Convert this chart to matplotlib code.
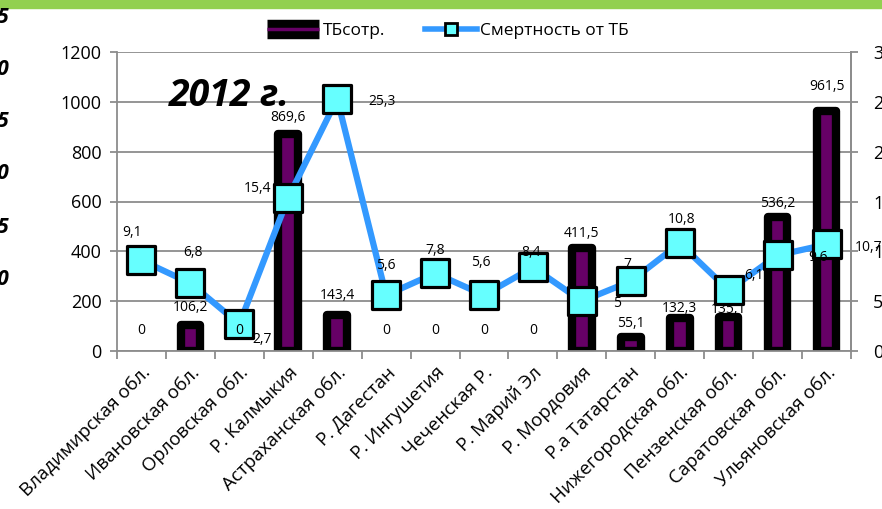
import matplotlib
matplotlib.use("Agg")
import matplotlib.pyplot as plt
import numpy as np
from matplotlib.lines import Line2D
from matplotlib.markers import MarkerStyle
from matplotlib.patches import Rectangle
from matplotlib.legend_handler import HandlerTuple

plt.rcParams['font.family'] = ['Open Sans', 'DejaVu Sans']

# data
regions = ['Владимирская обл.', 'Ивановская обл.', 'Орловская обл.', 'Р. Калмыкия',
           'Астраханская обл.', 'Р. Дагестан', 'Р. Ингушетия', 'Чеченская Р.',
           'Р. Марий Эл', 'Р. Мордовия', 'Р.а Татарстан', 'Нижегородская обл.',
           'Пензенская обл.', 'Саратовская обл.', 'Ульяновская обл.']
tb_staff = [0, 106.2, 0, 869.6, 143.4, 0, 0, 0, 0, 411.5, 55.1, 132.3, 135.1, 536.2, 961.5]
mortality = [9.1, 6.8, 2.7, 15.4, 25.3, 5.6, 7.8, 5.6, 8.4, 5, 7, 10.8, 6.1, 9.6, 10.7]
left_ticks = [0, 200, 400, 600, 800, 1000, 1200]
right_ticks = [0, 5, 10, 15, 20, 25, 30]

def fmt(v):
    s = ('%.1f' % v).rstrip('0').rstrip('.')
    return s.replace('.', ',')

# label placement (pixels, relative to the data point)
bar_lab_dy = [21, 17, 21, 17, 20, 21, 21, 21, 21, 15, 14, 10, 8, 14, 25]
line_lab_off = [(-9, 28), (3, 31), (23, -15), (-31, 9), (45, -3), (0, 30), (0, 23),
                (-3, 33), (-2, 15), (35, -2), (-3, 17), (2, 24), (25, 15), (40, -2), (42, -3)]

W, H = 882, 509
fig = plt.figure(figsize=(W / 100, H / 100), dpi=100, facecolor='white')
ax = fig.add_axes([117 / W, 1 - 351 / H, (851 - 117) / W, (351 - 52) / H])
ax2 = ax.twinx()

fig.patches.append(Rectangle((0, 1 - 8 / H), 1, 8 / H, transform=fig.transFigure,
                             color='#92d050', zorder=0))

x = np.arange(len(regions))
grey = '#8c8c8c'

# zero values get no bar outline at all
ax.bar(x, tb_staff, width=0.4, color='#660066', edgecolor='black',
       linewidth=[6 if v > 0 else 0 for v in tb_staff], joinstyle='round', zorder=2)
ax.set_ylim(0, 1200)
ax.set_xlim(-0.5, len(regions) - 0.5)
ax.set_yticks(left_ticks)
ax.yaxis.grid(True, color=grey, linewidth=1.3)
ax.set_axisbelow(True)
ax.spines['top'].set_visible(False)
for s in ['left', 'bottom', 'right']:
    ax.spines[s].set_color(grey)
    ax.spines[s].set_linewidth(1.3)
ax.tick_params(axis='y', length=5, color=grey, width=1.3, pad=6, labelsize=13)
ax.set_xticks(x)
ax.set_xticklabels(regions, rotation=45, ha='right', rotation_mode='anchor', fontsize=13.5)
ax.set_xticks(np.arange(-0.5, len(regions), 1), minor=True)
ax.tick_params(axis='x', which='major', length=0, pad=9)
ax.tick_params(axis='x', which='minor', length=6, color=grey, width=1.3)

sq = MarkerStyle('s', joinstyle='round')
ax2.plot(x, mortality, color='#3399ff', linewidth=4.5, marker=sq, markersize=20,
         markerfacecolor='#66ffff', markeredgecolor='black', markeredgewidth=2.3,
         solid_joinstyle='round', zorder=3)
ax2.set_ylim(0, 30)
ax2.set_yticks(right_ticks)
for s in ['top', 'left', 'bottom']:
    ax2.spines[s].set_visible(False)
ax2.spines['right'].set_color(grey)
ax2.spines['right'].set_linewidth(1.3)
ax2.tick_params(axis='y', length=5, color=grey, width=1.3, pad=11, labelsize=13)

# bar labels drawn on the upper axes so they sit above the markers
for xi, v, dy in zip(x, tb_staff, bar_lab_dy):
    ax2.annotate(fmt(v), (xi, v), xycoords=ax.transData, xytext=(0, dy),
                 textcoords='offset pixels', ha='center', va='center', fontsize=10, zorder=5)

for xi, v, (dx, dy) in zip(x, mortality, line_lab_off):
    ax2.annotate(fmt(v), (xi, v), xytext=(dx, dy), textcoords='offset pixels',
                 ha='center', va='center', fontsize=10, zorder=6, annotation_clip=False)

fig.text(229 / W, 1 - 96 / H, '2012 г.', fontsize=27, fontweight='bold', style='italic',
         ha='center', va='center')

# clipped labels of a neighbouring chart on the left edge
for yy, t in zip([18, 70, 122, 174, 227, 279], ['2,5', '2,0', '1,5', '1,0', '0,5', '0,0']):
    fig.text(9 / W, 1 - yy / H, t, ha='right', va='center', fontsize=15,
             fontweight='bold', style='italic')

h_bar = (Line2D([], [], color='black', linewidth=14, solid_capstyle='butt'),
         Line2D([], [], color='#660066', linewidth=2.5, solid_capstyle='butt'))
h_line = Line2D([], [], color='#3399ff', linewidth=4, marker='s', markersize=8,
                markerfacecolor='#66ffff', markeredgecolor='black', markeredgewidth=2)
fig.legend([h_bar, h_line], ['ТБсотр.', 'Смертность от ТБ'], loc='center',
           bbox_to_anchor=(0.508, 1 - 31 / H), ncol=2, frameon=False, fontsize=12.5,
           handlelength=3.0, handletextpad=0.2, columnspacing=2.3,
           handler_map={tuple: HandlerTuple(ndivide=1)})

fig.savefig('out.png', dpi=100)
